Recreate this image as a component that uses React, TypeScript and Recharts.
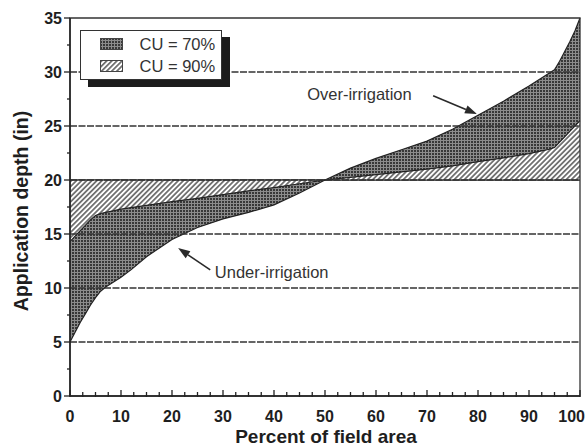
import React from 'react';
import {
  AreaChart,
  Area,
  XAxis,
  YAxis,
  ReferenceArea,
  ReferenceLine,
  ReferenceDot,
  Legend,
} from 'recharts';

// ---- data ----
const percentArea = [0, 1, 2, 3, 4, 5, 6, 7, 8, 10, 12, 15, 20, 25, 30, 35, 40, 45, 50, 55, 60, 65, 70, 75, 80, 85, 90, 92, 94, 95, 96, 97, 98, 99, 100];
const depthCU70 = [5.0, 5.9, 6.8, 7.6, 8.4, 9.1, 9.7, 10.1, 10.4, 11.0, 11.7, 12.9, 14.5, 15.6, 16.4, 17.0, 17.7, 18.8, 20.0, 21.1, 22.0, 22.8, 23.6, 24.7, 26.0, 27.3, 28.7, 29.3, 29.9, 30.2, 31.0, 31.9, 32.8, 33.8, 35.0];
const depthCU90 = [14.3, 14.8, 15.3, 15.8, 16.3, 16.7, 16.9, 17.0, 17.1, 17.3, 17.45, 17.65, 18.0, 18.3, 18.65, 19.0, 19.3, 19.65, 20.0, 20.25, 20.5, 20.75, 21.0, 21.3, 21.7, 22.05, 22.45, 22.65, 22.85, 23.0, 23.5, 24.0, 24.5, 25.0, 25.5];
const targetDepth = 20;
const seriesNames = ['CU = 70%', 'CU = 90%'];
const xTicks = Array.from({ length: 41 }, (_, i) => i * 2.5);
const yTicks = Array.from({ length: 15 }, (_, i) => i * 2.5);
const gridValues = [5, 10, 15, 20, 25, 30];
const annotations = [
  { text: 'Over-irrigation', x: 46.5, y: 27.4, from: { x: 71.2, y: 27.8 }, to: { x: 79.8, y: 26.1 } },
  { text: 'Under-irrigation', x: 28.4, y: 10.93, from: { x: 27.5, y: 11.67 }, to: { x: 21.2, y: 13.7 } },
];

const data = percentArea.map((x, i) => ({
  x,
  cu70: [targetDepth, depthCU70[i]],
  cu90: [targetDepth, depthCU90[i]],
}));

const FONT = '"Liberation Sans", Arial, sans-serif';
const patternIds: Record<string, string> = { 'CU = 70%': 'cross70', 'CU = 90%': 'hatch90' };

const XTick = (props: any) => {
  const { x, y, payload } = props;
  const v = payload.value;
  const major = Math.abs(v % 10) < 1e-6;
  const last = v === 100;
  return (
    <g>
      <line x1={x} x2={x} y1={y + 1} y2={y - (major ? 6 : 4)} stroke="#222" strokeWidth={1.3} />
      {major && (
        <text
          x={last ? x + 5 : x}
          y={y + 26}
          textAnchor={last ? 'end' : 'middle'}
          fontFamily={FONT}
          fontWeight="bold"
          fontSize={16}
          fill="#1e1e1e"
        >
          {v}
        </text>
      )}
    </g>
  );
};

const YTick = (props: any) => {
  const { x, y, payload } = props;
  const v = payload.value;
  const major = Math.abs(v % 5) < 1e-6;
  return (
    <g>
      <line x1={x - (major ? 6 : 3)} x2={x} y1={y} y2={y} stroke="#222" strokeWidth={1.3} />
      {major && (
        <text x={x - 8} y={y + 5.8} textAnchor="end" fontFamily={FONT} fontWeight="bold" fontSize={16} fill="#1e1e1e">
          {v}
        </text>
      )}
    </g>
  );
};

const ArrowShape = (props: any) => {
  const { x1, y1, x2, y2 } = props;
  if ([x1, y1, x2, y2].some((n) => typeof n !== 'number' || isNaN(n))) return null;
  const dx = x2 - x1;
  const dy = y2 - y1;
  const len = Math.sqrt(dx * dx + dy * dy) || 1;
  const ux = dx / len;
  const uy = dy / len;
  const hl = 12;
  const hw = 4.2;
  const bx = x2 - ux * hl;
  const by = y2 - uy * hl;
  const pts = `${x2},${y2} ${bx - uy * hw},${by + ux * hw} ${bx + uy * hw},${by - ux * hw}`;
  return (
    <g>
      <line x1={x1} y1={y1} x2={bx} y2={by} stroke="#2a2a2a" strokeWidth={1.6} />
      <polygon points={pts} fill="#2a2a2a" />
    </g>
  );
};

const renderLegend = (props: any) => {
  const items = (props && props.payload) || [];
  return (
    <div
      style={{
        position: 'relative',
        width: 140,
        height: 48,
        border: '1.5px solid #333',
        background: '#fff',
        boxShadow: '8px 7px 0 #1c1c1c',
        fontFamily: FONT,
        fontSize: 16.5,
        color: '#333',
      }}
    >
      {items.map((it: any, i: number) => (
        <div
          key={it.value}
          style={{ position: 'absolute', left: 18.5, top: 6.5 + i * 22, height: 13, display: 'flex', alignItems: 'center', whiteSpace: 'nowrap' }}
        >
          <svg width={23} height={12} style={{ display: 'block' }}>
            <rect x={0.5} y={0.5} width={22} height={11} fill={`url(#${patternIds[it.value]})`} stroke="#444" strokeWidth={1} />
          </svg>
          <span style={{ marginLeft: 17, lineHeight: '13px' }}>{it.value}</span>
        </div>
      ))}
    </div>
  );
};

export default function App() {
  return (
    <div style={{ position: 'absolute', left: 0, top: 0, width: 585, height: 447, background: '#fff' }}>
      <AreaChart width={585} height={447} data={data} margin={{ top: 18, right: 5, bottom: 0, left: 0 }}>
        <defs>
          <pattern id="cross70" width="3" height="3" patternUnits="userSpaceOnUse">
            <rect width="3" height="3" fill="#8c8c8c" />
            <rect width="2" height="2" fill="#383838" />
          </pattern>
          <pattern id="hatch90" width="3.6" height="3.6" patternUnits="userSpaceOnUse" patternTransform="rotate(45)">
            <rect width="3.6" height="3.6" fill="#fff" />
            <line x1="1.8" y1="0" x2="1.8" y2="3.6" stroke="#3a3a3a" strokeWidth="1.3" />
          </pattern>
        </defs>
        <XAxis
          dataKey="x"
          type="number"
          domain={[0, 100]}
          ticks={xTicks}
          interval={0}
          tickSize={0}
          tickMargin={0}
          tickLine={false}
          tick={<XTick />}
          height={51}
          axisLine={{ stroke: '#222', strokeWidth: 1.5 }}
        />
        <YAxis
          type="number"
          domain={[0, 35]}
          ticks={yTicks}
          interval={0}
          tickSize={0}
          tickMargin={0}
          tickLine={false}
          tick={<YTick />}
          width={70}
          axisLine={{ stroke: '#222', strokeWidth: 1.5 }}
        />
        {gridValues.map((v) => (
          <ReferenceLine key={'g' + v} y={v} stroke="#333" strokeWidth={1.3} strokeDasharray="7 1.5" />
        ))}
        <Area
          type="linear"
          dataKey="cu70"
          name={seriesNames[0]}
          fill="url(#cross70)"
          fillOpacity={1}
          stroke="#222"
          strokeWidth={1.2}
          isAnimationActive={false}
          dot={false}
          activeDot={false}
        />
        <Area
          type="linear"
          dataKey="cu90"
          name={seriesNames[1]}
          fill="url(#hatch90)"
          fillOpacity={1}
          stroke="#222"
          strokeWidth={1.2}
          isAnimationActive={false}
          dot={false}
          activeDot={false}
        />
        <ReferenceArea x1={0} x2={100} y1={0} y2={35} fill="none" stroke="#333" strokeWidth={1.3} ifOverflow="visible" />
        {annotations.map((a) => (
          <ReferenceLine key={a.text + 'arrow'} segment={[a.from, a.to]} shape={<ArrowShape />} ifOverflow="visible" />
        ))}
        {annotations.map((a) => (
          <ReferenceDot
            key={a.text}
            x={a.x}
            y={a.y}
            r={0}
            ifOverflow="visible"
            shape={(p: any) => (
              <text x={p.cx} y={p.cy} fontFamily={FONT} fontSize={16.5} fill="#333">
                {a.text}
              </text>
            )}
          />
        ))}
        <Legend
          content={renderLegend}
          layout="horizontal"
          verticalAlign="middle"
          align="center"
          wrapperStyle={{ left: 80, top: 30, bottom: 'auto', width: 'auto', height: 'auto' }}
        />
        <text x={326} y={443} textAnchor="middle" fontFamily={FONT} fontWeight="bold" fontSize={19} fill="#1e1e1e">
          Percent of field area
        </text>
        <text transform="translate(28,211) rotate(-90)" textAnchor="middle" fontFamily={FONT} fontWeight="bold" fontSize={19.5} fill="#1e1e1e">
          Application depth (in)
        </text>
      </AreaChart>
    </div>
  );
}
